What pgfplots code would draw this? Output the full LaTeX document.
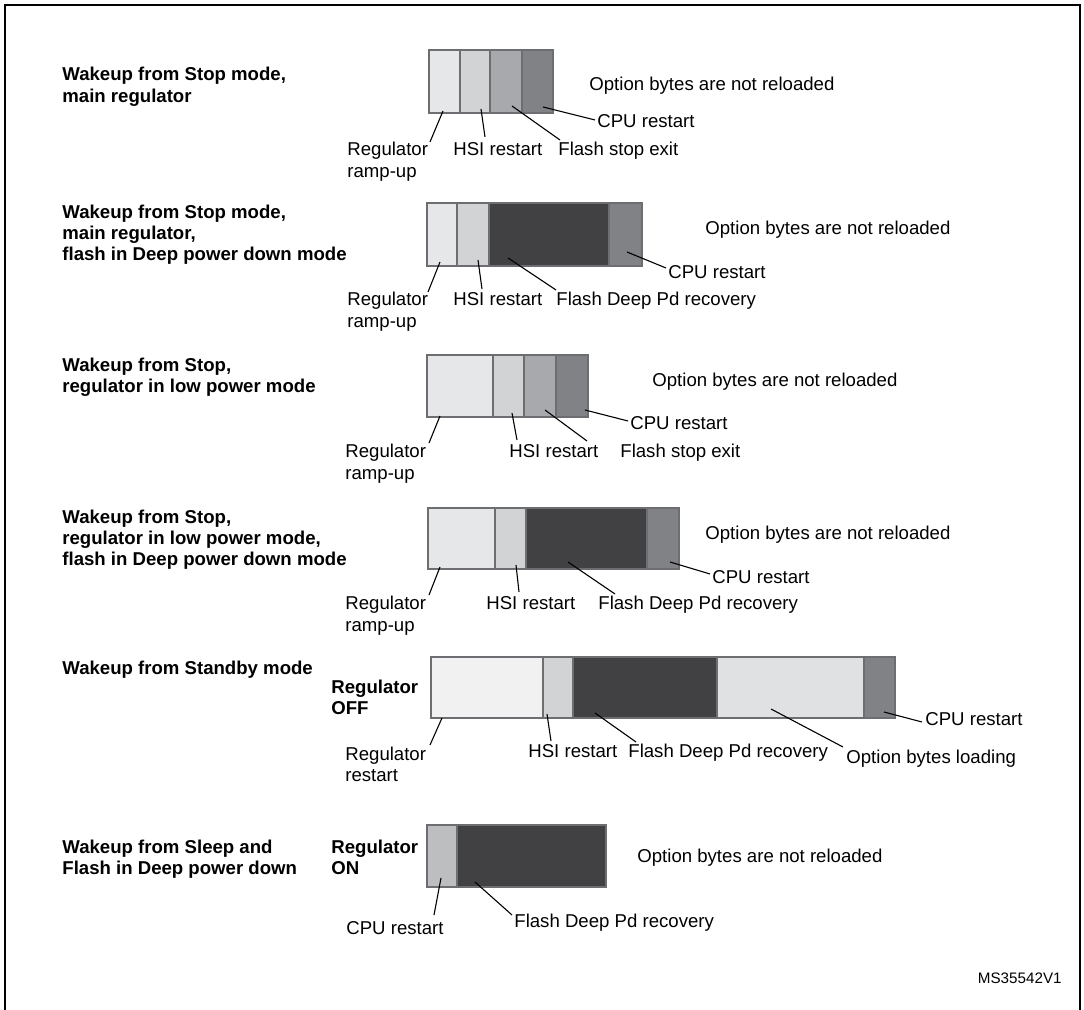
\documentclass[border=0pt]{standalone}
\usepackage{fontspec}
\setmainfont{Liberation Sans}
\usepackage{pgfplots}
\pgfplotsset{compat=1.18}

% segment shades
\definecolor{rampup}{HTML}{E6E7E8}
\definecolor{hsi}{HTML}{D1D3D4}
\definecolor{fstop}{HTML}{A7A9AC}
\definecolor{cpu}{HTML}{808285}
\definecolor{deeppd}{HTML}{414042}
\definecolor{regrst}{HTML}{F1F1F2}
\definecolor{optload}{HTML}{E0E1E3}
\definecolor{cpuon}{HTML}{BCBEC0}
\definecolor{bord}{HTML}{6D6E71}

% one segment: colour, x from, x to, y top, y bottom (pixels)
\newcommand\seg[5]{%
  \addplot[fill=#1, draw=bord, line width=1.3pt, mark=none, sharp plot]
    coordinates {(#2,#4) (#3,#4) (#3,#5) (#2,#5)} -- cycle;}

\tikzset{
  lbl/.style={anchor=base west, inner sep=0pt, font=\fontsize{9.3}{11}\selectfont},
  blbl/.style={lbl, font=\fontsize{9.3}{11}\selectfont\bfseries},
  lead/.style={line width=0.55pt}
}

\begin{document}
\begin{tikzpicture}
\begin{axis}[
  name=ax,
  width=542pt, height=505pt, scale only axis,
  xmin=0, xmax=1084, ymin=0, ymax=1010,
  y dir=reverse,
  hide axis, clip=false]

  % bar 1: stop mode, main regulator
  \seg{rampup}{429}{460}{50}{113}
  \seg{hsi}{460}{490}{50}{113}
  \seg{fstop}{490}{522}{50}{113}
  \seg{cpu}{522}{553}{50}{113}
  % bar 2: stop mode, main regulator, flash deep power down
  \seg{rampup}{427}{457}{203}{266}
  \seg{hsi}{457}{489}{203}{266}
  \seg{deeppd}{489}{609}{203}{266}
  \seg{cpu}{609}{642}{203}{266}
  % bar 3: stop, low power regulator
  \seg{rampup}{427}{493}{355}{417}
  \seg{hsi}{493}{524}{355}{417}
  \seg{fstop}{524}{556}{355}{417}
  \seg{cpu}{556}{588}{355}{417}
  % bar 4: stop, low power regulator, flash deep power down
  \seg{rampup}{428}{495}{508}{569}
  \seg{hsi}{495}{526}{508}{569}
  \seg{deeppd}{526}{647}{508}{569}
  \seg{cpu}{647}{679}{508}{569}
  % bar 5: standby
  \seg{regrst}{431}{543}{657}{718}
  \seg{hsi}{543}{573}{657}{718}
  \seg{deeppd}{573}{717}{657}{718}
  \seg{optload}{717}{864}{657}{718}
  \seg{cpu}{864}{895}{657}{718}
  % bar 6: sleep, flash deep power down
  \seg{cpuon}{427}{457}{825}{887}
  \seg{deeppd}{457}{606}{825}{887}

  % frame
  \draw[line width=1pt] (5,1010) -- (5,5) -- (1080,5) -- (1080,1010);

  % row titles
  \node[blbl] at (62,81) {Wakeup from Stop mode,};
  \node[blbl] at (62,103) {main regulator};
  \node[blbl] at (62,219) {Wakeup from Stop mode,};
  \node[blbl] at (62,240) {main regulator,};
  \node[blbl] at (62,261) {flash in Deep power down mode};
  \node[blbl] at (62,372) {Wakeup from Stop,};
  \node[blbl] at (62,393) {regulator in low power mode};
  \node[blbl] at (62,524) {Wakeup from Stop,};
  \node[blbl] at (62,545) {regulator in low power mode,};
  \node[blbl] at (62,566) {flash in Deep power down mode};
  \node[blbl] at (62,675) {Wakeup from Standby mode};
  \node[blbl] at (331,694) {Regulator};
  \node[blbl] at (331,715) {OFF};
  \node[blbl] at (62,854) {Wakeup from Sleep and};
  \node[blbl] at (62,875) {Flash in Deep power down};
  \node[blbl] at (331,854) {Regulator};
  \node[blbl] at (331,875) {ON};

  % bar 1 labels
  \node[lbl] at (589,91) {Option bytes are not reloaded};
  \node[lbl] at (597,128) {CPU restart};
  \draw[lead] (543,107) -- (595,120);
  \node[lbl] at (558,156) {Flash stop exit};
  \draw[lead] (512,106) -- (560,140);
  \node[lbl] at (453,156) {HSI restart};
  \draw[lead] (481,109) -- (485,137);
  \node[lbl] at (347,156) {Regulator};
  \node[lbl] at (347,178) {ramp-up};
  \draw[lead] (443,111) -- (430,142);

  % bar 2 labels
  \node[lbl] at (705,235) {Option bytes are not reloaded};
  \node[lbl] at (668,279) {CPU restart};
  \draw[lead] (627,252) -- (666,268);
  \node[lbl] at (556,306) {Flash Deep Pd recovery};
  \draw[lead] (508,258) -- (556,290);
  \node[lbl] at (453,306) {HSI restart};
  \draw[lead] (478,260) -- (482,289);
  \node[lbl] at (347,306) {Regulator};
  \node[lbl] at (347,328) {ramp-up};
  \draw[lead] (440,262) -- (428,292);

  % bar 3 labels
  \node[lbl] at (652,387) {Option bytes are not reloaded};
  \node[lbl] at (630,430) {CPU restart};
  \draw[lead] (585,410) -- (628,421);
  \node[lbl] at (620,458) {Flash stop exit};
  \draw[lead] (545,410) -- (587,441);
  \node[lbl] at (509,458) {HSI restart};
  \draw[lead] (512,413) -- (517,440);
  \node[lbl] at (345,458) {Regulator};
  \node[lbl] at (345,480) {ramp-up};
  \draw[lead] (440,416) -- (429,443);

  % bar 4 labels
  \node[lbl] at (705,540) {Option bytes are not reloaded};
  \node[lbl] at (712,584) {CPU restart};
  \draw[lead] (670,562) -- (710,574);
  \node[lbl] at (598,610) {Flash Deep Pd recovery};
  \draw[lead] (568,562) -- (615,594);
  \node[lbl] at (486,610) {HSI restart};
  \draw[lead] (516,565) -- (519,592);
  \node[lbl] at (345,610) {Regulator};
  \node[lbl] at (345,632) {ramp-up};
  \draw[lead] (440,567) -- (429,595);

  % bar 5 labels
  \node[lbl] at (925,726) {CPU restart};
  \draw[lead] (884,712) -- (922,722);
  \node[lbl] at (846,764) {Option bytes loading};
  \draw[lead] (771,709) -- (843,747);
  \node[lbl] at (628,758) {Flash Deep Pd recovery};
  \draw[lead] (595,713) -- (636,742);
  \node[lbl] at (528,758) {HSI restart};
  \draw[lead] (547,714) -- (551,741);
  \node[lbl] at (345,761) {Regulator};
  \node[lbl] at (345,782) {restart};
  \draw[lead] (442,718) -- (430,745);

  % bar 6 labels
  \node[lbl] at (637,863) {Option bytes are not reloaded};
  \node[lbl] at (346,935) {CPU restart};
  \draw[lead] (441,878) -- (434,915);
  \node[lbl] at (514,928) {Flash Deep Pd recovery};
  \draw[lead] (475,882) -- (512,915);

  \node[anchor=base east, inner sep=0pt, font=\fontsize{7.6}{9}\selectfont]
    at (1062,984) {MS35542V1};
\end{axis}
\pgfresetboundingbox
\useasboundingbox (ax.south west) rectangle (ax.north east);
\end{tikzpicture}
\end{document}
